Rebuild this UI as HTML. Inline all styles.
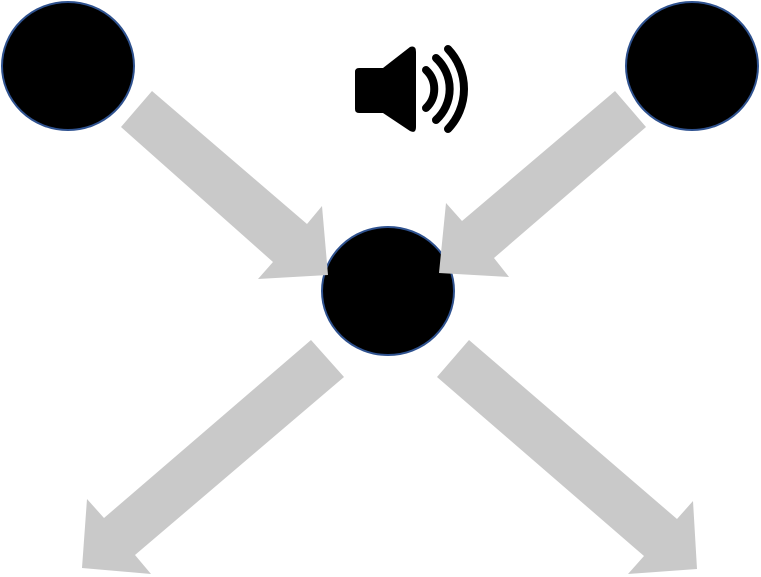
<!DOCTYPE html>
<html><head><style>html,body{margin:0;padding:0;background:#fff}svg{display:block}</style></head>
<body>
<svg width="761" height="577" viewBox="0 0 761 577" xmlns="http://www.w3.org/2000/svg">
<g fill="#000" stroke="#2f528f" stroke-width="2">
<ellipse cx="68" cy="66" rx="66" ry="64"/>
<ellipse cx="692" cy="66" rx="66" ry="64"/>
<ellipse cx="388" cy="291" rx="66" ry="64"/>
</g>
<g fill="#c9c9c9">
<polygon points="152,91 307,224 322,206 328,275 258,279 273,262 121,127"/>
<polygon points="615,91 462,221 446,203 439,273 509,277 494,258 646,127"/>
<polygon points="311,340 104,518 87,499 82,568 151,574 135,555 344,377"/>
<polygon points="469,340 677,519 693,501 697,569 628,574 644,556 437,377"/>
</g>
<g>
<path d="M359,68 L383,68 L410,47 Q416,45 416,52 L416,127 Q416,134 410,131 L383,113 L359,113 Q355,113 355,109 L355,72 Q355,68 359,68 Z" fill="#000"/>
<g fill="none" stroke="#000" stroke-width="8" stroke-linecap="round">
<path d="M426,70 A26,26 0 0 1 426,108"/>
<path d="M436,58 A42,42 0 0 1 436,120"/>
<path d="M448,49 A58,58 0 0 1 448,129"/>
</g>
</g>
</svg>
</body></html>
